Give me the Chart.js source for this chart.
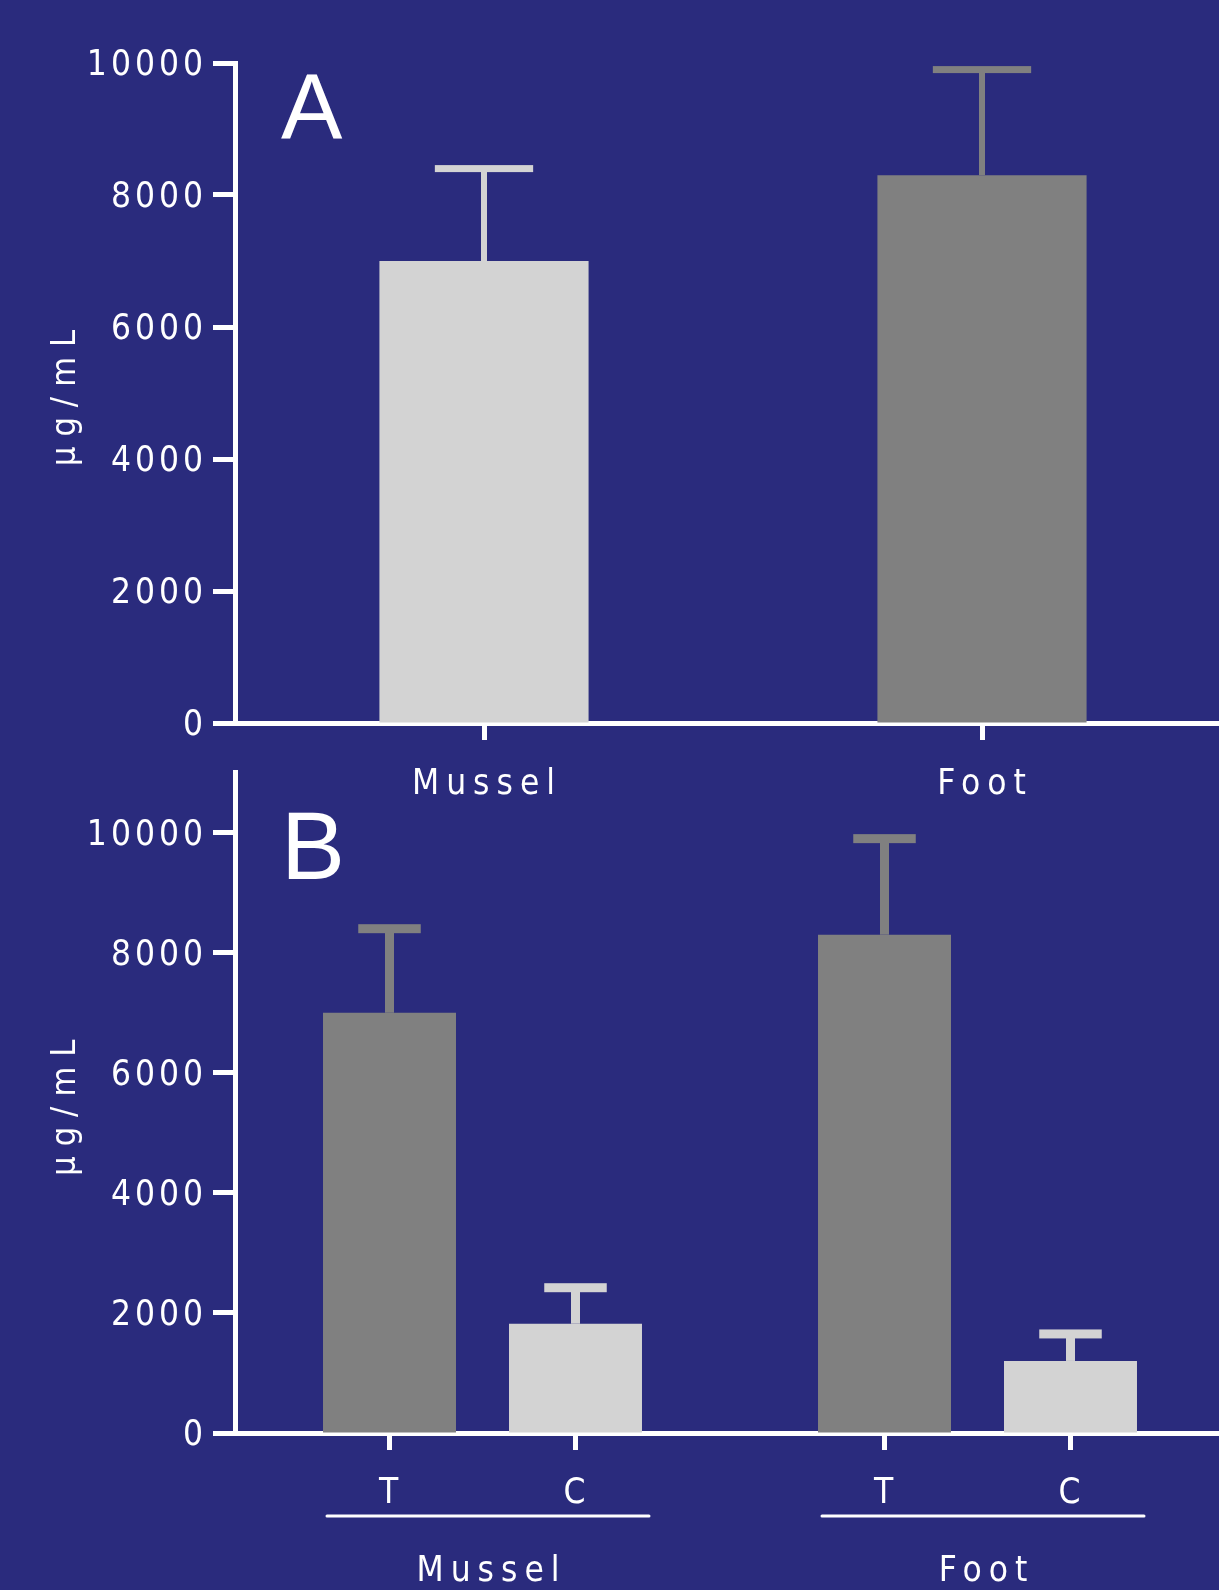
<!DOCTYPE html>
<html>
<head>
<meta charset="utf-8">
<script src="https://cdn.jsdelivr.net/npm/chart.js@4.4.1/dist/chart.umd.min.js"></script>
<style>
  html, body { margin: 0; padding: 0; background: #2a2b7d; overflow: hidden; }
  body { width: 1219px; height: 1590px; position: relative; }
  canvas { position: absolute; left: 0; }
  #chartA { top: 0; }
  #chartB { top: 740px; }
</style>
</head>
<body>
<canvas id="chartA" width="1231" height="800"></canvas>
<canvas id="chartB" width="1225" height="850"></canvas>
<script>
// values
const yTickValues = [0, 2000, 4000, 6000, 8000, 10000];

const panelACategories = ['Mussel', 'Foot'];
const panelAValues = [7000, 8300];
const panelAErrors = [1400, 1600];

const panelBCategories = ['Mussel', 'Foot'];
const panelBGroups = ['T', 'C'];
const panelBTValues = [7000, 8300];
const panelBTErrors = [1400, 1600];
const panelBCValues = [1820, 1200];
const panelBCErrors = [600, 450];

const LIGHT = '#d3d3d3';
const DARK = '#808080';
const WHITE = '#ffffff';

Chart.defaults.font.family = "'DejaVu Sans Condensed', 'Liberation Sans Narrow', sans-serif";
Chart.defaults.font.size = 35;
Chart.defaults.color = WHITE;

// run one of a scale's draw steps with its own letter spacing
function spaced(scale, name, px) {
    const orig = scale[name];
    if (orig._spaced) return;
    const f = function (...args) {
        const ctx = this.ctx;
        const old = ctx.letterSpacing;
        ctx.letterSpacing = px;
        orig.apply(this, args);
        ctx.letterSpacing = old;
    };
    f._spaced = true;
    scale[name] = f;
}

// wide letter spacing like the original figure
const spacing = {
    id: 'spacing',
    beforeInit(chart) { chart.ctx.letterSpacing = '4px'; },
    afterLayout(chart) {
        spaced(chart.scales.x, 'drawLabels', '7px');
        spaced(chart.scales.y, 'drawTitle', '10px');
    },
    beforeDraw(chart) { chart.ctx.letterSpacing = '4px'; }
};

const errorBars = {
    id: 'errorBars',
    afterDatasetsDraw(chart, args, opts) {
        const ctx = chart.ctx;
        const y = chart.scales.y;
        chart.data.datasets.forEach((ds, i) => {
            const meta = chart.getDatasetMeta(i);
            meta.data.forEach((bar, j) => {
                const top = y.getPixelForValue(ds.data[j] + ds.errors[j]);
                const color = Array.isArray(ds.backgroundColor) ? ds.backgroundColor[j] : ds.backgroundColor;
                const capW = bar.width * opts.capRatio;
                ctx.save();
                ctx.fillStyle = color;
                ctx.fillRect(bar.x - opts.stem / 2, top, opts.stem, bar.y - top);
                ctx.fillRect(bar.x - capW / 2, top - opts.cap / 2, capW, opts.cap);
                ctx.restore();
            });
        });
    }
};

const panelLetter = {
    id: 'panelLetter',
    afterDraw(chart, args, opts) {
        const ctx = chart.ctx;
        const area = chart.chartArea;
        ctx.save();
        ctx.letterSpacing = '0px';
        ctx.font = opts.size + "px 'Liberation Sans', Arial, sans-serif";
        ctx.fillStyle = WHITE;
        ctx.textBaseline = 'alphabetic';
        ctx.textAlign = 'left';
        ctx.fillText(opts.text, area.left + opts.dx, area.top + opts.dy);
        ctx.restore();
    }
};

// tick marks, T/C labels and group underlines for panel B
const groupAxis = {
    id: 'groupAxis',
    afterDraw(chart) {
        const ctx = chart.ctx;
        const bottom = chart.chartArea.bottom;
        ctx.save();
        ctx.fillStyle = WHITE;
        ctx.strokeStyle = WHITE;
        ctx.font = Chart.defaults.font.size + 'px ' + Chart.defaults.font.family;
        ctx.textAlign = 'center';
        ctx.textBaseline = 'middle';
        chart.data.datasets.forEach((ds, i) => {
            chart.getDatasetMeta(i).data.forEach(bar => {
                ctx.fillRect(bar.x - 2.5, bottom, 5, 17);
                ctx.fillText(ds.label, bar.x + 1, bottom + 61);
            });
        });
        const first = chart.getDatasetMeta(0).data;
        const last = chart.getDatasetMeta(chart.data.datasets.length - 1).data;
        ctx.lineWidth = 3;
        ctx.lineCap = 'round';
        first.forEach((bar, j) => {
            const l = bar.x - bar.width / 2 + 4;
            const r = last[j].x + last[j].width / 2 + 7;
            ctx.beginPath();
            ctx.moveTo(l, bottom + 83);
            ctx.lineTo(r, bottom + 83);
            ctx.stroke();
        });
        ctx.restore();
    }
};

function yScale(max) {
    return {
        min: 0,
        max: max,
        afterBuildTicks: scale => { scale.ticks = yTickValues.map(v => ({ value: v })); },
        afterFit: scale => { scale.width = 235; },
        border: { display: true, color: WHITE, width: 5 },
        grid: { drawOnChartArea: false, drawTicks: true, tickLength: 22, tickWidth: 5, color: WHITE },
        ticks: { color: WHITE, padding: 6, labelOffset: 3, font: { size: 35 }, callback: v => String(v) },
        title: {
            display: true,
            text: 'µg/mL',
            color: WHITE,
            font: { size: 34 },
            padding: { top: 46, bottom: 0 }
        }
    };
}

new Chart(document.getElementById('chartA'), {
    type: 'bar',
    data: {
        labels: panelACategories,
        datasets: [{
            label: 'A',
            data: panelAValues,
            errors: panelAErrors,
            backgroundColor: [LIGHT, DARK],
            borderWidth: 0,
            categoryPercentage: 1,
            barPercentage: 0.42
        }]
    },
    options: {
        responsive: false,
        animation: false,
        layout: { padding: { top: 63, left: 0, right: 0, bottom: 0 } },
        plugins: {
            legend: { display: false },
            tooltip: { enabled: false },
            errorBars: { stem: 6, cap: 7, capRatio: 0.47 },
            panelLetter: { text: 'A', dx: 46, dy: 76, size: 92 }
        },
        scales: {
            x: {
                afterFit: scale => { scale.height = 77; },
                border: { display: true, color: WHITE, width: 5 },
                grid: { offset: false, drawOnChartArea: false, drawTicks: true, tickLength: 17, tickWidth: 5, color: WHITE },
                ticks: { color: WHITE, padding: 24, labelOffset: 3, maxRotation: 0, font: { size: 35 } }
            },
            y: yScale(10000)
        }
    },
    plugins: [spacing, errorBars, panelLetter]
});

new Chart(document.getElementById('chartB'), {
    type: 'bar',
    data: {
        labels: panelBCategories,
        datasets: [{
            label: panelBGroups[0],
            data: panelBTValues,
            errors: panelBTErrors,
            backgroundColor: DARK,
            borderWidth: 0,
            categoryPercentage: 0.7515,
            barPercentage: 0.715
        }, {
            label: panelBGroups[1],
            data: panelBCValues,
            errors: panelBCErrors,
            backgroundColor: LIGHT,
            borderWidth: 0,
            categoryPercentage: 0.7515,
            barPercentage: 0.715
        }]
    },
    options: {
        responsive: false,
        animation: false,
        layout: { padding: { top: 32.6, left: 0, right: 0, bottom: 0 } },
        plugins: {
            legend: { display: false },
            tooltip: { enabled: false },
            errorBars: { stem: 9, cap: 9, capRatio: 0.47 },
            panelLetter: { text: 'B', dx: 46, dy: 106, size: 96 }
        },
        scales: {
            x: {
                afterFit: scale => { scale.height = 157; },
                border: { display: true, color: WHITE, width: 5 },
                grid: { offset: false, drawOnChartArea: false, drawTicks: false },
                ticks: { color: WHITE, padding: 118, labelOffset: 9, maxRotation: 0, font: { size: 35 } }
            },
            y: yScale(11000)
        }
    },
    plugins: [spacing, errorBars, panelLetter, groupAxis]
});
</script>
</body>
</html>
